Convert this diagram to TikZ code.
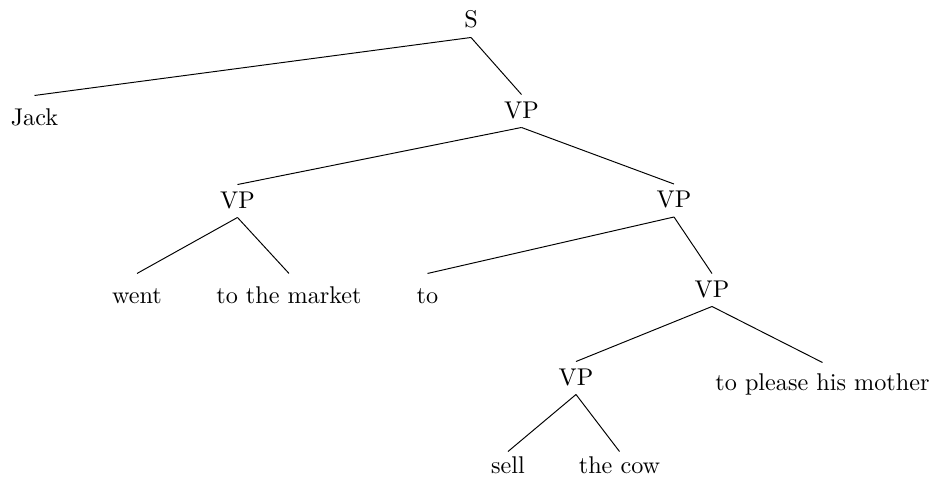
\documentclass[tikz,border=0pt]{standalone}
\begin{document}
\begin{tikzpicture}[x=0.4132pt,y=-0.4132pt,
  cat/.style={inner sep=0pt,anchor=base,text height=9.5pt,text depth=3.72pt},
  leaf/.style={inner sep=0pt,anchor=base,text height=12pt,text depth=0pt},
  edge/.style={line width=0.4pt}]
\useasboundingbox (0,0) rectangle (932,485);
\node[cat] (S) at (471,28) {S};
\node[leaf] (jack) at (34.5,125) {Jack};
\node[cat] (vp1) at (521.5,118) {VP};
\node[cat] (vp2) at (237.5,208) {VP};
\node[cat] (vp3) at (674,207.5) {VP};
\node[leaf] (went) at (137,303) {went};
\node[leaf] (market) at (289,303) {to the market};
\node[leaf] (to) at (427.5,303) {to};
\node[cat] (vp4) at (712,297) {VP};
\node[cat] (vp5) at (576,385) {VP};
\node[leaf,text height=11.16pt] (please) at (822.5,390) {to please his mother};
\node[leaf,text height=8.68pt] (sell) at (508,473) {sell};
\node[leaf,text height=8.68pt] (cow) at (619.5,473) {the cow};
\draw[edge] (S.south) -- (jack.north);
\draw[edge] (S.south) -- (vp1.north);
\draw[edge] (vp1.south) -- (vp2.north);
\draw[edge] (vp1.south) -- (vp3.north);
\draw[edge] (vp2.south) -- (went.north);
\draw[edge] (vp2.south) -- (market.north);
\draw[edge] (vp3.south) -- (to.north);
\draw[edge] (vp3.south) -- (vp4.north);
\draw[edge] (vp4.south) -- (vp5.north);
\draw[edge] (vp4.south) -- (please.north);
\draw[edge] (vp5.south) -- (sell.north);
\draw[edge] (vp5.south) -- (cow.north);
\end{tikzpicture}
\end{document}
